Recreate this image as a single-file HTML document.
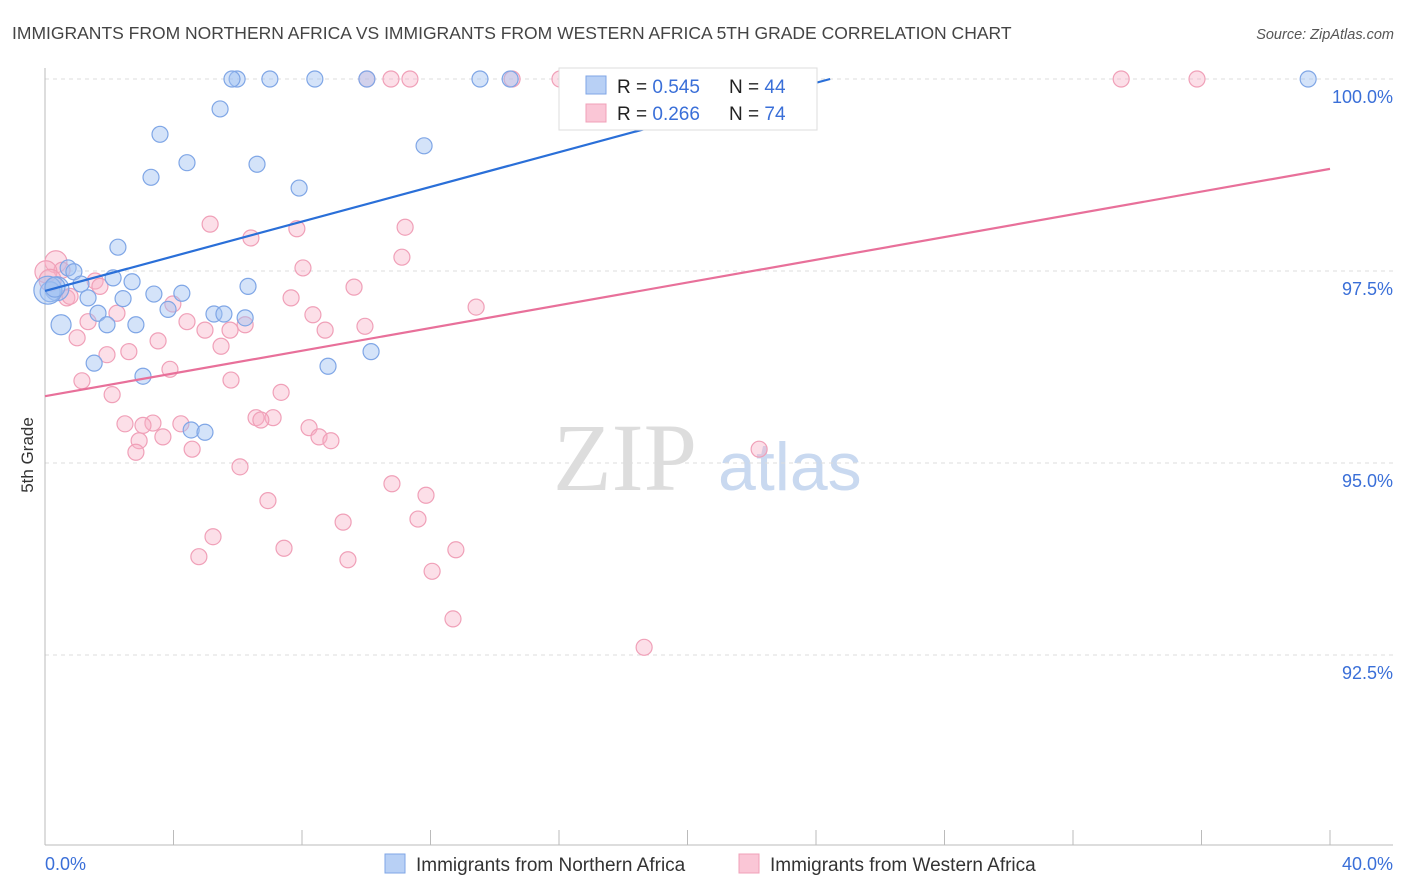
<!DOCTYPE html>
<html><head><meta charset="utf-8">
<style>
body{margin:0;background:#fff;font-family:"Liberation Sans",sans-serif;}
svg{display:block}
</style></head>
<body>
<svg id="chart" width="1406" height="892">
<text x="12" y="39" font-size="17.5" fill="#444">IMMIGRANTS FROM NORTHERN AFRICA VS IMMIGRANTS FROM WESTERN AFRICA 5TH GRADE CORRELATION CHART</text>
<text x="1394" y="39" font-size="14.5" fill="#555" font-style="italic" text-anchor="end">Source: ZipAtlas.com</text>
<text x="33" y="455" font-size="17" fill="#333" text-anchor="middle" transform="rotate(-90 33 455)">5th Grade</text>
<g>
<text x="553" y="490" font-size="96" fill="#ddd" font-family="Liberation Serif,serif">ZIP</text>
<text x="718" y="490" font-size="68" fill="#c9d9f0">atlas</text>
</g>
<g id="grid"></g>
<g id="axes"></g>
<g id="pts"></g>
<g id="trends"></g>
<g>
<rect x="559" y="68" width="258" height="62" fill="#fff" stroke="#ddd"/>
<rect x="586" y="76" width="20" height="18" fill="#b8d0f5" stroke="#7fa6e6"/>
<rect x="586" y="104" width="20" height="18" fill="#fac6d6" stroke="#f0a0b8"/>
<text x="617" y="93" font-size="19" fill="#222">R = <tspan fill="#3a6fd8">0.545</tspan><tspan x="729">N = </tspan><tspan fill="#3a6fd8">44</tspan></text>
<text x="617" y="120" font-size="19" fill="#222">R = <tspan fill="#3a6fd8">0.266</tspan><tspan x="729">N = </tspan><tspan fill="#3a6fd8">74</tspan></text>
</g>
<g>
<rect x="385" y="854" width="20" height="19" fill="#b8d0f5" stroke="#7fa6e6"/>
<text x="416" y="871" font-size="19" fill="#333">Immigrants from Northern Africa</text>
<rect x="739" y="854" width="20" height="19" fill="#fac6d6" stroke="#f0a0b8"/>
<text x="770" y="871" font-size="19" fill="#333">Immigrants from Western Africa</text>
</g>
</svg>
<script>
const blueX=[5.98,5.82,7.00,8.40,10.02,13.54,14.48,39.32,5.45,3.58,4.42,6.60,3.30,11.80,7.91,2.27,0.72,0.90,1.12,2.12,2.71,0.37,0.16,1.34,2.43,3.39,4.26,6.32,3.83,5.26,5.57,6.23,1.65,1.93,2.83,0.50,1.53,3.05,8.81,10.15,4.55,4.98,0.09,0.31];
const blueY=[100,100,100,100,100,100,100,100,99.61,99.28,98.91,98.89,98.72,99.13,98.58,97.81,97.54,97.49,97.33,97.41,97.36,97.27,97.23,97.15,97.14,97.20,97.21,97.30,97.00,96.94,96.94,96.89,96.95,96.80,96.80,96.80,96.30,96.13,96.26,96.45,95.43,95.40,97.25,97.29];
const blueR=[8,8,8,8,8,8,8,8,8,8,8,8,8,8,8,8,8,8,8,8,8,12,10,8,8,8,8,8,8,8,8,8,8,8,8,10,8,8,8,8,8,8,14,10];
const pinkX=[10.02,10.77,11.36,14.54,16.03,16.65,33.50,35.86,5.14,6.41,7.84,11.21,11.11,8.03,0.34,0.53,1.56,1.71,0.68,0.78,7.66,9.62,13.42,3.98,8.34,1.34,2.24,4.42,4.98,5.76,6.23,8.72,9.96,1.00,3.52,5.48,1.93,2.61,3.89,1.15,5.79,2.09,7.35,2.49,3.36,4.23,3.05,6.57,7.10,6.72,8.22,8.53,8.90,2.93,3.67,2.83,4.58,6.07,10.80,11.86,6.94,11.61,9.28,5.23,7.44,12.79,4.79,9.43,12.05,12.70,18.65,22.23,0.03,0.16];
const pinkY=[100,100,100,100,100,100,100,100,98.11,97.93,98.05,98.07,97.68,97.54,97.62,97.51,97.37,97.30,97.15,97.17,97.15,97.29,97.03,97.07,96.93,96.84,96.95,96.84,96.73,96.73,96.80,96.73,96.78,96.63,96.59,96.52,96.41,96.45,96.22,96.07,96.08,95.89,95.92,95.51,95.52,95.51,95.49,95.59,95.59,95.56,95.46,95.34,95.29,95.29,95.34,95.14,95.18,94.95,94.73,94.58,94.51,94.27,94.23,94.04,93.89,93.87,93.78,93.74,93.59,92.97,92.60,95.18,97.49,97.38];
const blueTrend=[0,97.24,24.44,100];
const pinkTrend=[0,95.87,40,98.83];
const yTicks=[100,97.5,95,92.5];
const yTickLabels=["100.0%","97.5%","95.0%","92.5%"];
const xTicks=[0,4,8,12,16,20,24,28,32,36,40];
const NS="http://www.w3.org/2000/svg";
const X=v=>45+v*(1285/40);
const Y=v=>79+(100-v)*76.8;
function mk(tag,attrs,parent){const e=document.createElementNS(NS,tag);for(const k in attrs)e.setAttribute(k,attrs[k]);parent.appendChild(e);return e;}
const grid=document.getElementById('grid'),axes=document.getElementById('axes'),pts=document.getElementById('pts'),tr=document.getElementById('trends');
yTicks.forEach((t,i)=>{
 const l=mk('line',{x1:45,x2:1393,y1:Y(t),y2:Y(t),stroke:'#ddd','stroke-dasharray':'4,4'},grid);
 
 
 const tx=mk('text',{x:1393,y:Y(t)+24,'text-anchor':'end','font-size':18,fill:'#3a6fd8'},axes);
 tx.textContent=yTickLabels[i];
 
 
});
let a=mk('line',{x1:45,x2:45,y1:68,y2:845,stroke:'#bbb'},axes);


a=mk('line',{x1:45,x2:1393,y1:845,y2:845,stroke:'#bbb'},axes);


xTicks.forEach(t=>{
 const l=mk('line',{x1:X(t),x2:X(t),y1:830,y2:845,stroke:'#bbb'},axes);
 
 
});
let t0=mk('text',{x:45,y:870,'font-size':18,fill:'#3a6fd8'},axes);t0.textContent=xTicks[0].toFixed(1)+'%';


let t1=mk('text',{x:1393,y:870,'font-size':18,fill:'#3a6fd8','text-anchor':'end'},axes);t1.textContent=xTicks[xTicks.length-1].toFixed(1)+'%';


pinkX.forEach((x,i)=>{
 const c=mk('circle',{cx:X(x),cy:Y(pinkY[i]),r:(i>=72||i==14)?11:8,fill:'rgba(248,175,198,0.4)',stroke:'#f0a0b8','stroke-width':1.2},pts);
 
 
});
blueX.forEach((x,i)=>{
 const c=mk('circle',{cx:X(x),cy:Y(blueY[i]),r:blueR[i],fill:'rgba(160,192,242,0.45)',stroke:'#7fa6e6','stroke-width':1.2},pts);
 
 
});
let ln=mk('line',{x1:X(pinkTrend[0]),y1:Y(pinkTrend[1]),x2:X(pinkTrend[2]),y2:Y(pinkTrend[3]),stroke:'#e8709a','stroke-width':2.2},tr);


ln=mk('line',{x1:X(blueTrend[0]),y1:Y(blueTrend[1]),x2:X(blueTrend[2]),y2:Y(blueTrend[3]),stroke:'#2a6fd8','stroke-width':2.2},tr);


</script>
</body></html>
